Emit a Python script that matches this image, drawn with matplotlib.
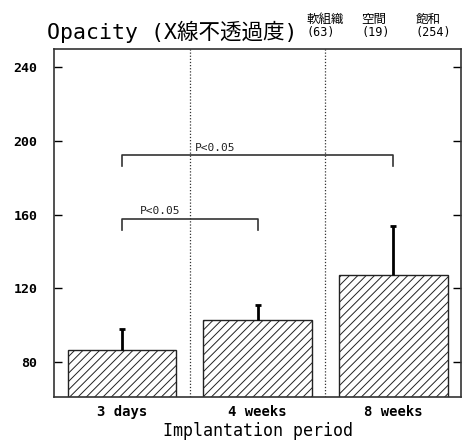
import numpy as np
import matplotlib.pyplot as plt

# values
periods = ["3 days", "4 weeks", "8 weeks"]
means = [86.5, 103.0, 127.5]
sd_upper = [11.5, 8.0, 26.5]
yticks = [80, 120, 160, 200, 240]

# significance brackets: (left bar, right bar, level, label, label x)
brackets = [(0, 1, 157.7, "P<0.05", 0.13), (0, 2, 192.3, "P<0.05", 0.54)]

# header tags next to the title
tags = [("軟組織", "(63)"), ("空間", "(19)"), ("飽和", "(254)")]
tag_x = [0.664, 0.783, 0.900]

MONO_JP = ["DejaVu Sans Mono", "Noto Sans CJK JP"]
plt.rcParams["hatch.linewidth"] = 0.7

fig = plt.figure(figsize=(4.62, 4.46), dpi=100)
ax = fig.add_axes([0.117, 0.110, 0.881, 0.780])

x = np.arange(len(periods))
ax.bar(x, means, width=0.8, color="white", edgecolor="#222222",
       linewidth=1.0, hatch="////", zorder=2)

# upper-only error bars
_, caps, _ = ax.errorbar(x, means, yerr=[np.zeros(len(x)), sd_upper], fmt="none",
                         ecolor="black", elinewidth=2, capsize=2.5, capthick=2, zorder=3)
caps[0].set_visible(False)

# dotted separators between groups
for xs in [0.5, 1.5]:
    ax.axvline(xs, color="#333333", linestyle=(0, (1, 1.5)), linewidth=0.9, zorder=1)

# significance brackets
for a, b, y, lab, lx in brackets:
    ax.plot([a, a, b, b], [y - 6, y, y, y - 6], color="#333333", lw=1.2, zorder=4)
    ax.text(lx, y + 1.5, lab, fontsize=8, family=MONO_JP,
            ha="left", va="bottom", color="#222222")

ax.set_xlim(-0.5, 2.5)
ax.set_ylim(61, 250)
ax.set_yticks(yticks)
ax.set_xticks(x)
ax.set_xticklabels(periods, fontsize=10, fontweight="bold", family="DejaVu Sans Mono")
for t in ax.get_yticklabels():
    t.set_fontsize(9.5)
    t.set_fontweight("bold")
    t.set_family("DejaVu Sans Mono")
ax.tick_params(axis="y", direction="in", length=6, right=True, width=1, pad=12)
ax.tick_params(axis="x", length=0, pad=6)
for s in ax.spines.values():
    s.set_color("#333333")
    s.set_linewidth(1.2)

ax.set_xlabel("Implantation period", fontsize=12, family="DejaVu Sans Mono", labelpad=2)

fig.text(0.102, 0.928, "Opacity (X線不透過度)", fontsize=15.5, family=MONO_JP,
         ha="left", va="center")
for (name, num), tx in zip(tags, tag_x):
    fig.text(tx, 0.957, name, fontsize=9, family=MONO_JP, ha="left", va="center")
    fig.text(tx, 0.928, num, fontsize=8.5, family=MONO_JP, ha="left", va="center")

plt.savefig("out.png", dpi=100)
